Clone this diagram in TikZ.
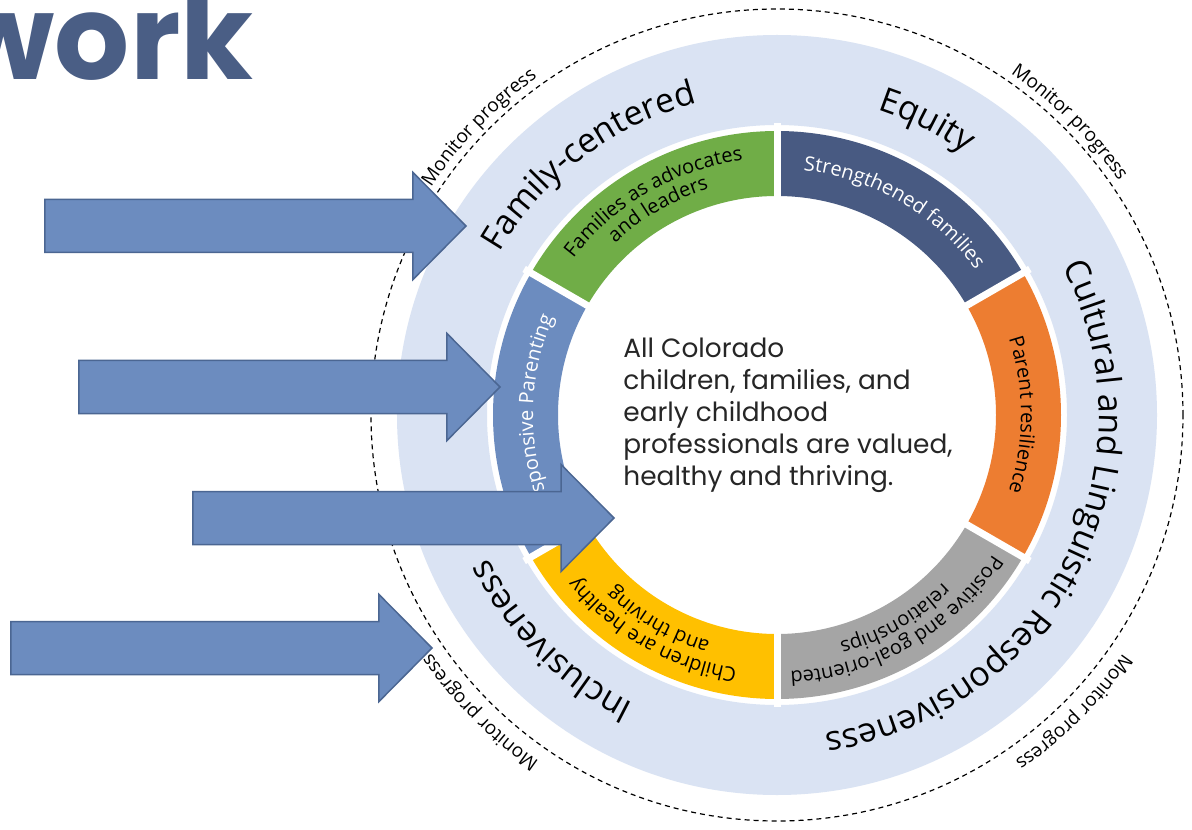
\documentclass[tikz,border=0pt]{standalone}
\usepackage{fontspec}
\usetikzlibrary{decorations.text}
\newfontfamily\opensans{Open Sans}
\newfontfamily\poppins{Poppins}
\newcommand{\ringfont}{\opensans\fontsize{17}{20}\selectfont}
\newcommand{\segfont}{\opensans\fontsize{10}{12}\selectfont}
\newcommand{\monfont}{\opensans\fontsize{9.5}{11}\selectfont}
\definecolor{ringblue}{HTML}{DAE3F3}
\definecolor{famgreen}{HTML}{70AD47}
\definecolor{strblue}{HTML}{485A82}
\definecolor{resorange}{HTML}{ED7D31}
\definecolor{relgray}{HTML}{A5A5A5}
\definecolor{kidyellow}{HTML}{FFC000}
\definecolor{parblue}{HTML}{6C8CBF}
\definecolor{arrowedge}{HTML}{4B6692}
\definecolor{titleblue}{HTML}{4A5E85}
\begin{document}
\begin{tikzpicture}[x=0.5pt,y=0.5pt,
blockarrow/.style={draw=arrowedge,fill=parblue,line width=0.75pt},
ringtext/.style={decorate,decoration={text along path,text align=center,text={|\ringfont|#1}}},
segtext/.style={decorate,decoration={text along path,text align=center,text={|\segfont|#1}}},
seginv/.style={decorate,decoration={text along path,text align=center,text={|\segfont\color{white}|#1}}},
montext/.style={decorate,decoration={text along path,text align=center,text={|\monfont|#1}}},
monline/.style={dash pattern=on 2.5pt off 2pt,line width=0.6pt}]
\useasboundingbox (-777,-414) rectangle (415,415);
\clip (-777,-414) rectangle (415,415);
\fill[white] (-777,-414) rectangle (415,415);
\draw[monline] (0,0) circle[radius=406];
\foreach \m/\r in {136/414,45/414,-45/420,-135/420}
  \path[montext=Monitor progress] (\m+28:\r) arc[start angle=\m+28,end angle=\m-28,radius=\r];
\fill[ringblue,even odd rule] (0,0) circle[radius=380] (0,0) circle[radius=290];
\foreach \a/\c in {90/famgreen,30/strblue,-30/resorange,-90/relgray,-150/kidyellow,150/parblue}
  \fill[\c] (\a:284) arc[start angle=\a,end angle=\a+60,radius=284]
    -- (\a+60:219) arc[start angle=\a+60,end angle=\a,radius=219] -- cycle;
\foreach \a in {90,30,-30,-90,-150,150}
  \draw[white,line width=3.5pt] (\a:205) -- (\a:292);
\path[ringtext=Family-centered] (162:322) arc[start angle=162,end angle=92,radius=322];
\path[ringtext=Equity] (95:322) arc[start angle=95,end angle=31,radius=322];
\path[ringtext=Cultural and Linguistic Responsiveness] (42:322) arc[start angle=42,end angle=-96,radius=322];
\path[ringtext=Inclusiveness] (-98:322) arc[start angle=-98,end angle=-172,radius=322];
\path[segtext=Families as advocates] (148:257) arc[start angle=148,end angle=92,radius=257];
\path[segtext=and leaders] (148:236) arc[start angle=148,end angle=92,radius=236];
\path[seginv=Strengthened families] (88:246) arc[start angle=88,end angle=32,radius=246];
\path[segtext=Parent resilience] (28:244) arc[start angle=28,end angle=-28,radius=244];
\path[segtext=Positive and goal-oriented] (-32:257) arc[start angle=-32,end angle=-88,radius=257];
\path[segtext=relationships] (-32:236) arc[start angle=-32,end angle=-88,radius=236];
\path[segtext=Children are healthy] (-92:257) arc[start angle=-92,end angle=-148,radius=257];
\path[segtext=and thriving] (-92:236) arc[start angle=-92,end angle=-148,radius=236];
\path[seginv=Responsive Parenting] (210:244) arc[start angle=210,end angle=150,radius=244];
\node[align=left,anchor=north west,inner sep=0pt,text=black!85,
  font=\poppins\fontsize{13.2}{16}\selectfont] (goal) at (-154,77)
  {All Colorado\\children, families, and\\early childhood\\professionals are valued,\\healthy and thriving.};
\coordinate (tip1) at (-311,189);
\coordinate (tip2) at (-277,28);
\coordinate (tip3) at (-163,-103);
\coordinate (tip4) at (-345,-233);
\foreach \t in {tip1,tip2,tip3,tip4}
  \draw[blockarrow] (\t) -- ++(-53,53.5) -- ++(0,-27) -- ++(-368,0) -- ++(0,-53)
    -- ++(368,0) -- ++(0,-27) -- cycle;
\node[anchor=base east,inner sep=0pt,text=titleblue,
  font=\poppins\bfseries\fontsize{59}{60}\selectfont] (title) at (-523,335) {work};
\end{tikzpicture}
\end{document}
